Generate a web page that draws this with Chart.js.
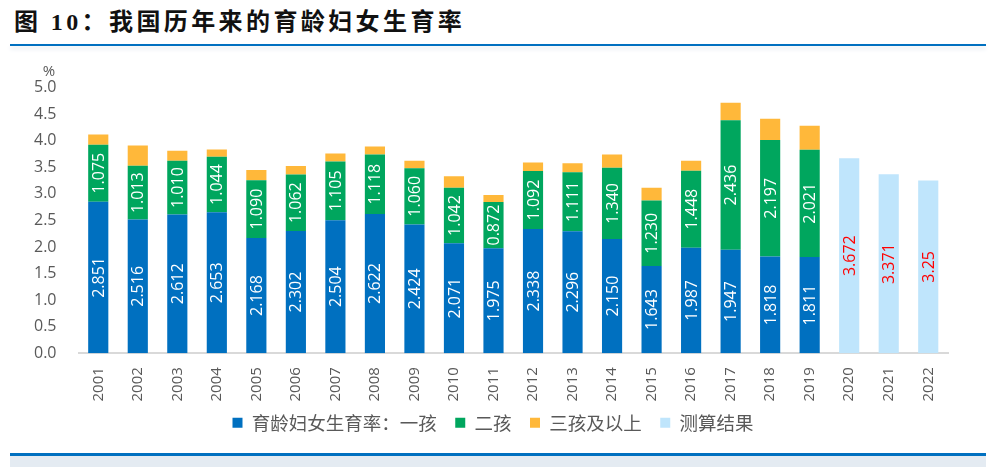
<!DOCTYPE html>
<html>
<head>
<meta charset="utf-8">
<script src="https://cdn.jsdelivr.net/npm/chart.js@4.4.0/dist/chart.umd.min.js"></script>
<style>
  body { margin: 0; background: #fff; width: 993px; height: 467px; position: relative; overflow: hidden; }
  #titulo { position: absolute; left: 14px; top: 2px; font-family: "Liberation Serif", "Noto Sans CJK SC", serif; font-weight: 700; font-size: 24px; color: #111; letter-spacing: 3.4px; }
  #linhaTopo { position: absolute; left: 10px; width: 976px; top: 44px; height: 2px; background: #0070C0; box-shadow: 0 3px 4px #dfe6ee; }
  #linhaBase { position: absolute; left: 10px; width: 976px; top: 453px; height: 3px; background: #0070C0; }
  #faixaBase { position: absolute; left: 10px; width: 976px; top: 456px; height: 11px; background: #e4ebf2; }
  #wrap { position: absolute; left: 0; top: 56px; width: 993px; height: 392px; }
</style>
</head>
<body>
<div id="titulo">图 10：我国历年来的育龄妇女生育率</div>
<div id="linhaTopo"></div>
<div id="wrap"><canvas id="grafico"></canvas></div>
<div id="linhaBase"></div>
<div id="faixaBase"></div>
<script>
/* ======= Dados ======= */
const anos = ['2001','2002','2003','2004','2005','2006','2007','2008','2009','2010','2011',
  '2012','2013','2014','2015','2016','2017','2018','2019','2020','2021','2022'];
const primeiroFilho = [2.851,2.516,2.612,2.653,2.168,2.302,2.504,2.622,2.424,2.071,1.975,
  2.338,2.296,2.150,1.643,1.987,1.947,1.818,1.811,null,null,null];
const segundoFilho = [1.075,1.013,1.010,1.044,1.090,1.062,1.105,1.118,1.060,1.042,0.872,
  1.092,1.111,1.340,1.230,1.448,2.436,2.197,2.021,null,null,null];
const terceiroFilho = [0.19,0.38,0.19,0.14,0.19,0.16,0.15,0.15,0.14,0.22,0.13,
  0.16,0.17,0.25,0.24,0.19,0.33,0.40,0.45,null,null,null];
const estimativa = [null,null,null,null,null,null,null,null,null,null,null,
  null,null,null,null,null,null,null,null,3.672,3.371,3.25];
const rotulosEstimativa = ['3.672','3.371','3.25'];
const ticksY = [0,0.5,1,1.5,2,2.5,3,3.5,4,4.5,5];
const nomesSeries = ['育龄妇女生育率：一孩', '二孩', '三孩及以上', '测算结果'];

/* ======= Plugin: rótulos verticais dentro das barras ======= */
const rotulosBarras = {
  id: 'rotulosBarras',
  afterDatasetsDraw(chart) {
    const ctx = chart.ctx;
    const configs = [
      { idx: 0, cor: '#fff', fmt: v => v.toFixed(3) },
      { idx: 1, cor: '#fff', fmt: v => v.toFixed(3) },
      { idx: 3, cor: '#FF0000', fmt: (v, i) => rotulosEstimativa[i - 19] }
    ];
    ctx.save();
    ctx.font = '16px "Open Sans", "DejaVu Sans", sans-serif';
    ctx.textAlign = 'center';
    ctx.textBaseline = 'middle';
    configs.forEach(c => {
      const meta = chart.getDatasetMeta(c.idx);
      const dados = chart.data.datasets[c.idx].data;
      meta.data.forEach((bar, i) => {
        const v = dados[i];
        if (v === null || v === undefined) return;
        const props = bar.getProps(['x', 'y', 'base'], true);
        const cy = (props.y + props.base) / 2;
        ctx.save();
        ctx.translate(props.x, cy);
        ctx.rotate(-Math.PI / 2);
        ctx.fillStyle = c.cor;
        ctx.fillText(c.fmt(v, i), 0, 1);
        ctx.restore();
      });
    });
    // unidade do eixo
    ctx.fillStyle = '#595959';
    ctx.font = '15px "Open Sans", "DejaVu Sans", sans-serif';
    ctx.fillText('%', 49, 16);
    ctx.restore();
  }
};

/* ======= Plugin: centraliza a legenda na página ======= */
const deslocarLegenda = {
  id: 'deslocarLegenda',
  afterLayout(chart) {
    chart.legend.left += 13;
    chart.legend.right += 13;
  }
};

function criarGrafico() {
  const ds = (label, data, cor) => ({
    label, data, backgroundColor: cor, borderWidth: 0,
    barPercentage: 0.51, categoryPercentage: 1, stack: 'a'
  });

  new Chart(document.getElementById('grafico'), {
    type: 'bar',
    data: {
      labels: anos,
      datasets: [
        ds(nomesSeries[0], primeiroFilho, '#0070C0'),
        ds(nomesSeries[1], segundoFilho, '#00A65E'),
        ds(nomesSeries[2], terceiroFilho, '#FFB83A'),
        ds(nomesSeries[3], estimativa, '#BFE5FC')
      ]
    },
    options: {
      responsive: true,
      maintainAspectRatio: false,
      animation: false,
      layout: { padding: { left: 12, right: 45, top: 30, bottom: 6 } },
      plugins: {
        legend: {
          position: 'bottom',
          labels: {
            boxWidth: 10, boxHeight: 10, padding: 0,
            color: '#595959',
            font: { size: 18.5, family: '"Noto Sans CJK SC", sans-serif' },
            // espaço extra entre os itens da legenda
            generateLabels: chart => Chart.defaults.plugins.legend.labels.generateLabels(chart)
              .map((item, i, arr) => ({ ...item, text: i < arr.length - 1 ? item.text + '\u3000' : item.text }))
          }
        },
        tooltip: { enabled: false }
      },
      scales: {
        x: {
          stacked: true,
          grid: { display: false, drawTicks: false },
          border: { color: '#D9D9D9', width: 2 },
          afterFit: axis => { axis.height -= 2; },
          ticks: {
            color: '#595959', maxRotation: 90, minRotation: 90, padding: 14,
            font: { size: 15, family: '"Open Sans", "DejaVu Sans", sans-serif' }
          }
        },
        y: {
          stacked: true,
          min: 0, max: 5,
          afterBuildTicks: axis => { axis.ticks = ticksY.map(v => ({ value: v })); },
          grid: { display: false, drawTicks: false },
          border: { display: false },
          ticks: {
            color: '#595959', padding: 22,
            font: { size: 16, family: '"Open Sans", "DejaVu Sans", sans-serif' },
            callback: v => Number(v).toFixed(1)
          }
        }
      }
    },
    plugins: [rotulosBarras, deslocarLegenda]
  });
}

document.addEventListener('DOMContentLoaded', criarGrafico);
</script>
</body>
</html>
